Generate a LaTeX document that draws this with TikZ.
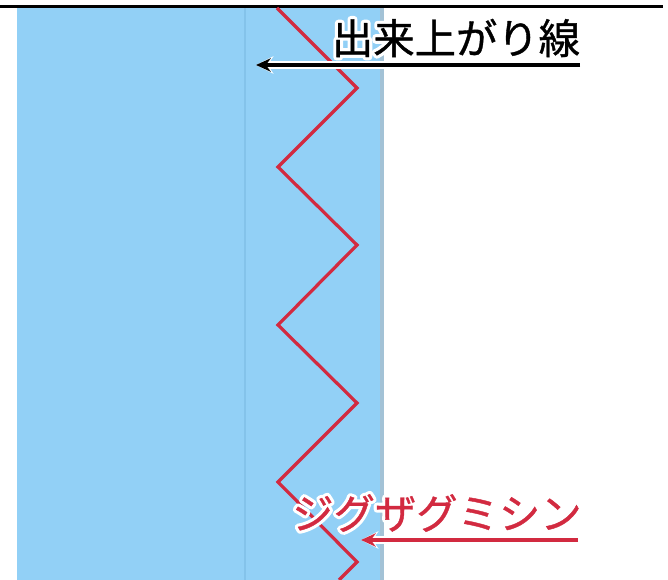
\documentclass[tikz,border=0pt]{standalone}
\usepackage{fontspec}
\newfontfamily\jpfont[FakeBold=0.9]{Noto Sans CJK JP}
\newfontfamily\jphalofont{Noto Sans CJK JP}
\usetikzlibrary{arrows.meta,positioning}
\definecolor{cloth}{HTML}{92D0F6}
\definecolor{seam}{HTML}{84C3EA}
\definecolor{hem}{HTML}{A3C2D6}
\definecolor{stitchred}{HTML}{D22A40}
% white outline behind a text: stroked glyphs
\newcommand{\outlined}[1]{\special{pdf:literal direct 1 Tr 5 w 1 1 1 RG 1 j}#1\special{pdf:literal direct 0 Tr}}
\tikzset{x=0.75pt, y=-0.75pt,
  label/.style={font=\jpfont\fontsize{31}{31}\selectfont, inner sep=0pt},
  halolabel/.style={font=\jphalofont\fontsize{31}{31}\selectfont, inner sep=0pt},
  stitch/.style={stitchred, line width=2.4pt, line join=miter},
  pointer/.style={-{Stealth[length=11pt,width=10pt]}, line width=3pt},
  halo/.style={white, line width=5.5pt, -{Stealth[length=13pt,width=13pt]}}}

\begin{document}
\begin{tikzpicture}
    \useasboundingbox (0,0) rectangle (668,580);
    \fill[cloth] (17,8) rectangle (384,580);
    \fill[hem] (380,8) rectangle (384,580);
    \draw[seam, line width=2.2pt] (245,8) -- (245,580);
    \draw[black, line width=1.7pt] (0,6.5) -- (663,6.5);
    % zigzag stitch
    \draw[stitch] (277,8) -- (357,88) -- (278,167) -- (357,245) -- (278,325)
        -- (357,403) -- (278,482) -- (357,562) -- (339,580);
    \node[halolabel, text=white] (finishhalo) at (456,38) {\outlined{出来上がり線}};
    \node[label] (finish) at (456,38) {出来上がり線};
    \coordinate (finishtail) at (580,65);
    \coordinate (finishtip) at (256,65);
    \draw[halo] (finishtail) -- (finishtip);
    \draw[pointer, black] (finishtail) -- (finishtip);
    \node[halolabel, text=white] (zigzaghalo) at (437,513) {\outlined{ジグザグミシン}};
    \node[label, text=stitchred] (zigzag) at (437,513) {ジグザグミシン};
    \coordinate (zigzagtail) at (578,540);
    \coordinate (zigzagtip) at (361,540);
    \draw[halo] (zigzagtail) -- (zigzagtip);
    \draw[pointer, stitchred] (zigzagtail) -- (zigzagtip);
\end{tikzpicture}
\end{document}
